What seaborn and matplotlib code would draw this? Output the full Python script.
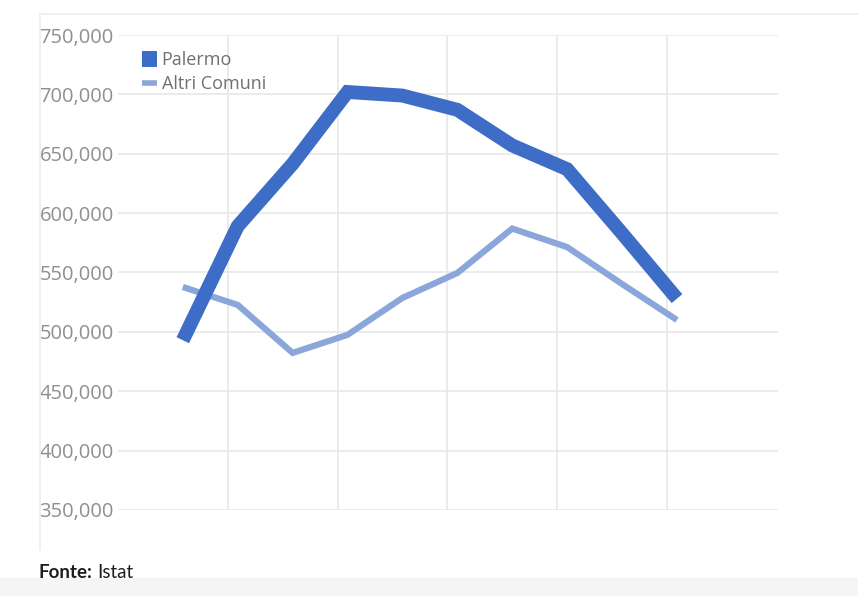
import pandas as pd
import matplotlib.pyplot as plt
from matplotlib.lines import Line2D
from matplotlib.patches import Rectangle
import seaborn as sns

# values (no x labels in the source)
periods = list(range(10))
palermo = [493000, 589000, 641500, 702000, 699000, 687000, 657000, 637000, 583000, 528000]
altri_comuni = [537800, 522700, 482300, 497500, 528600, 549600, 587000, 571400, 540300, 510000]
y_ticks = [350000, 400000, 450000, 500000, 550000, 600000, 650000, 700000, 750000]

df = pd.DataFrame({
    'periodo': periods * 2,
    'abitanti': palermo + altri_comuni,
    'serie': ['Palermo'] * len(periods) + ['Altri Comuni'] * len(periods),
})

sns.set_theme(style='white')
plt.rcParams['font.family'] = ['Open Sans', 'DejaVu Sans']

W, H = 858, 596
fig = plt.figure(figsize=(W / 100, H / 100), dpi=100)
ax = fig.add_axes([118 / W, (H - 510) / H, 660 / W, 475 / H])

colors = {'Palermo': '#3d6dc6', 'Altri Comuni': '#8aa6da'}
widths = {'Palermo': 10, 'Altri Comuni': 4.5}

# draw the light series first so Palermo sits on top
for name in ['Altri Comuni', 'Palermo']:
    sub = df[df['serie'] == name]
    sns.lineplot(data=sub, x='periodo', y='abitanti', ax=ax, color=colors[name],
                 linewidth=widths[name], solid_capstyle='butt', solid_joinstyle='miter',
                 legend=False, zorder=3 if name == 'Palermo' else 2)

ax.set_ylim(350000, 750000)
ax.set_yticks(y_ticks)
ax.set_yticklabels([f'{v:,}' for v in y_ticks])
ax.set_xlim(-1.18, 10.84)
ax.set_xticks([0.82, 2.82, 4.82, 6.82, 8.82])
ax.set_xticklabels([])
ax.set_xlabel('')
ax.set_ylabel('')
ax.grid(True, color='#e6e6e6', linewidth=1.1)
ax.set_axisbelow(True)
for s in ax.spines.values():
    s.set_visible(False)
ax.tick_params(axis='y', length=0, pad=3, labelsize=14.5, labelcolor='#8f8f8f')
ax.tick_params(axis='x', length=0)

handles = [Line2D([0], [0], color=colors['Palermo'], lw=11.5, solid_capstyle='butt'),
           Line2D([0], [0], color=colors['Altri Comuni'], lw=4, solid_capstyle='butt')]
leg = ax.legend(handles, ['Palermo', 'Altri Comuni'], loc='upper left',
                bbox_to_anchor=(0.036, 0.966), frameon=False, borderpad=0,
                borderaxespad=0, handlelength=0.85, handletextpad=0.25,
                labelspacing=0.35, fontsize=13)
for t in leg.get_texts():
    t.set_color('#707070')

# frame lines of the original panel and the grey strip at the bottom
fig.add_artist(Line2D([40 / W, 1], [(H - 14) / H] * 2, color='#ececec', lw=1.2))
fig.add_artist(Line2D([40 / W] * 2, [(H - 550) / H, (H - 14) / H], color='#ececec', lw=1.2))
fig.add_artist(Rectangle((0, 0), 1, 18 / H, transform=fig.transFigure,
                         color='#f5f5f5', zorder=-1))

fonte = fig.text(38 / W, (H - 573) / H, 'Fonte:', fontsize=13.5, fontweight='bold',
                 color='#1e1e1e', family=['Lato', 'DejaVu Sans'], va='center')
fig.canvas.draw()
bb = fonte.get_window_extent()
fig.text(bb.x1 / W + 5 / W, (H - 573) / H, 'Istat', fontsize=13.5,
         color='#1e1e1e', family=['Lato', 'DejaVu Sans'], va='center')

fig.savefig('out.png', dpi=100)
